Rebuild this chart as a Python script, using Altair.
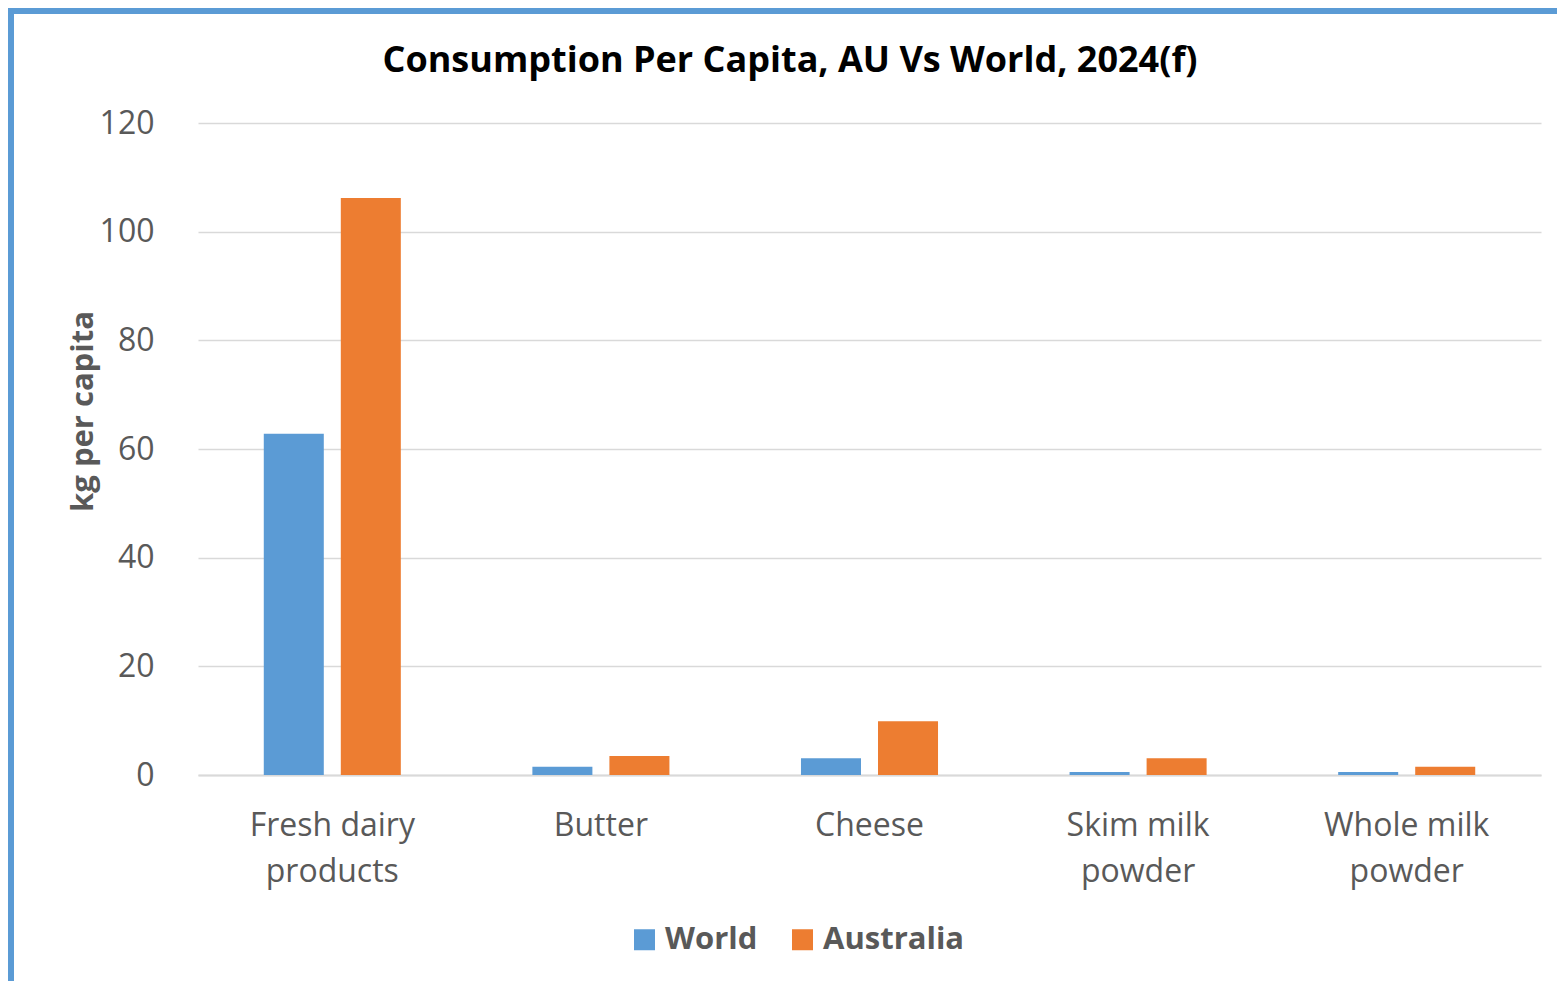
import altair as alt
import pandas as pd

categories = ["Fresh dairy products", "Butter", "Cheese", "Skim milk powder", "Whole milk powder"]
label_lines = ["Fresh dairy|products", "Butter", "Cheese", "Skim milk|powder", "Whole milk|powder"]
world = [62.8, 1.5, 3.1, 0.55, 0.55]
australia = [106.2, 3.5, 9.9, 3.1, 1.5]
series = ["World", "Australia"]
colors = ["#5B9BD5", "#ED7D31"]
y_ticks = [0, 20, 40, 60, 80, 100, 120]
title_text = "Consumption Per Capita, AU Vs World, 2024(f)"

rows = []
for lab, w, a in zip(label_lines, world, australia):
    rows.append({"category": lab, "series": "World", "value": w})
    rows.append({"category": lab, "series": "Australia", "value": a})
df = pd.DataFrame(rows)

W, H = 1343, 652
FONT = "Open Sans"

bars = alt.Chart(df).mark_bar().encode(
    x=alt.X("category:N", sort=label_lines,
            scale=alt.Scale(paddingInner=0, paddingOuter=0),
            axis=alt.Axis(title=None, labelExpr="split(datum.label, '|')",
                          labelFont=FONT, labelFontSize=32, labelColor="#595959",
                          labelAngle=0, labelPadding=35, labelLineHeight=46,
                          labelBaseline="top",
                          ticks=False, domain=True, domainColor="#D9D9D9", domainWidth=2,
                          grid=False)),
    xOffset=alt.XOffset("series:N", sort=series,
                        scale=alt.Scale(paddingInner=0.2208, paddingOuter=0.854)),
    y=alt.Y("value:Q", scale=alt.Scale(domain=[0, 120], nice=False),
            axis=alt.Axis(title="kg per capita", values=y_ticks,
                          labelFont=FONT, labelFontSize=32, labelColor="#595959",
                          labelPadding=44, ticks=False, domain=False,
                          grid=True, gridColor="#D9D9D9", gridWidth=1.5,
                          titleFont=FONT, titleFontSize=31, titleFontWeight="bold",
                          titleColor="#595959", titleAngle=270,
                          titleX=-115, titleY=288, titleAlign="center",
                          titleBaseline="middle")),
    color=alt.Color("series:N", sort=series,
                    scale=alt.Scale(domain=series, range=colors),
                    legend=alt.Legend(title=None, orient="none", direction="horizontal",
                                      legendX=431, legendY=801,
                                      symbolType="square", symbolSize=441,
                                      symbolStrokeWidth=0,
                                      labelFont=FONT, labelFontSize=31,
                                      labelFontWeight="bold", labelColor="#595959",
                                      columnPadding=29, labelOffset=5)),
)

frame_data = alt.Data(values=[{"t": title_text}])
left_border = alt.Chart(frame_data).mark_rule(color="#5B9BD5", strokeWidth=6, strokeCap="butt").encode(
    x=alt.value(-187), y=alt.value(-115), y2=alt.value(860))
top_border = alt.Chart(frame_data).mark_rule(color="#5B9BD5", strokeWidth=6, strokeCap="butt").encode(
    x=alt.value(-190), x2=alt.value(1362), y=alt.value(-112))
title = alt.Chart(frame_data).mark_text(
    font=FONT, fontSize=36, fontWeight="bold", color="#000000",
    align="center", baseline="alphabetic").encode(
    text="t:N", x=alt.value(592), y=alt.value(-51))

chart = alt.layer(bars, left_border, top_border, title).properties(
    width=W, height=H,
    autosize=alt.AutoSizeParams(type="none"),
    padding={"left": 198, "top": 123, "right": 16, "bottom": 206},
).configure(background="white").configure_view(stroke=None, strokeWidth=0)

chart.save("out.html", embed_options={"renderer": "svg", "actions": False})
